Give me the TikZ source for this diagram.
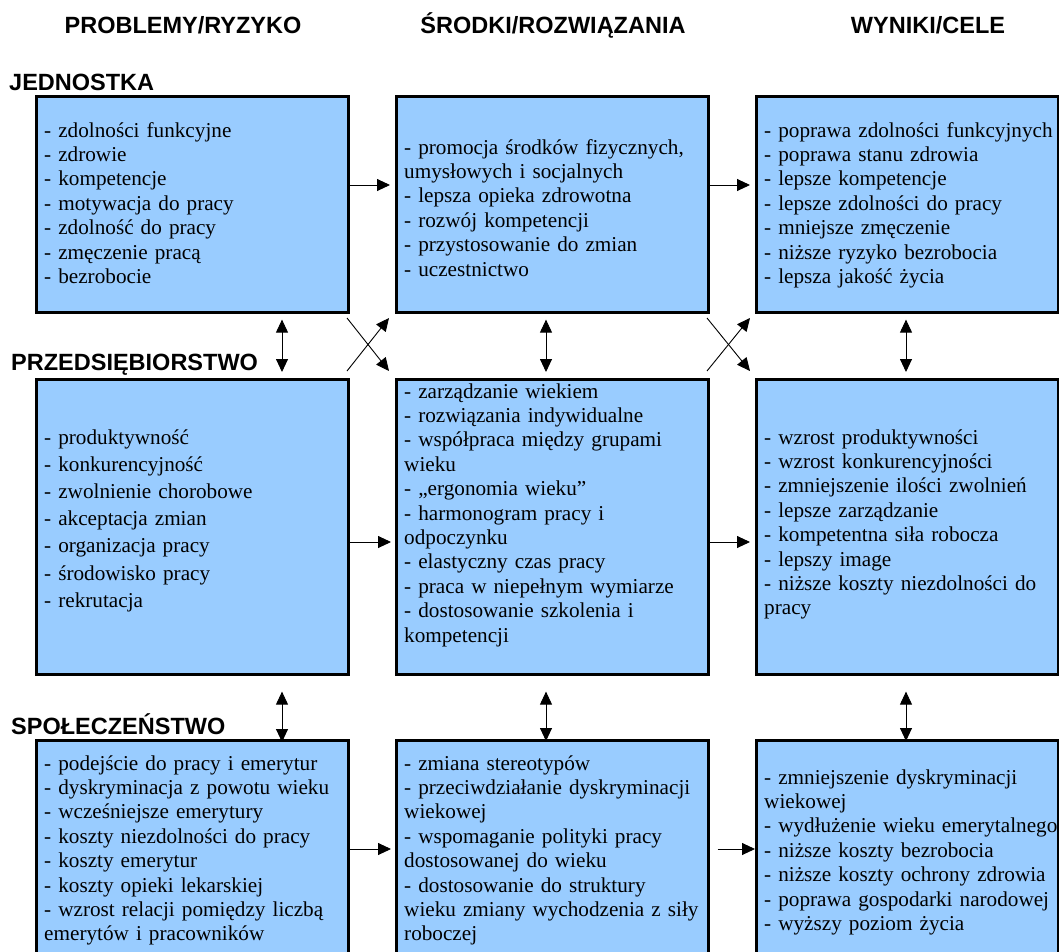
\documentclass[tikz,border=0pt]{standalone}
\usepackage{fontspec}
\setmainfont{Liberation Serif}
\setsansfont{Liberation Sans}
\usetikzlibrary{arrows.meta}
\definecolor{boxblue}{RGB}{153,204,255}
\begin{document}
\begin{tikzpicture}[x=1bp,y=-1bp,
 box/.style={draw=black, line width=2.6bp, fill=boxblue, inner sep=0pt, anchor=north west},
 txt/.style={inner sep=0pt, anchor=base west, align=left, text width=305bp, font=\fontsize{21.2bp}{24.4bp}\selectfont},
 hdr/.style={inner sep=0pt, anchor=base, font=\sffamily\bfseries\fontsize{23.5bp}{28bp}\selectfont},
 side/.style={hdr, anchor=base west},
 arr/.style={line width=0.9bp, -{Triangle[length=13bp,width=12bp]}},
 darr/.style={line width=0.9bp, {Triangle[length=13bp,width=12bp]}-{Triangle[length=13bp,width=12bp]}},
]
\useasboundingbox (0,0) rectangle (1059,952);

% headers
\node[hdr] (h1) at (183,33.5) {PROBLEMY/RYZYKO};
\node[hdr] (h2) at (553,33.5) {ŚRODKI/ROZWIĄZANIA};
\node[hdr] (h3) at (928,33.5) {WYNIKI/CELE};
\node[side] (s1) at (9,90) {JEDNOSTKA};
\node[side] (s2) at (11,370) {PRZEDSIĘBIORSTWO};
\node[side] (s3) at (11,734) {SPOŁECZEŃSTWO};

% boxes
\node[box, minimum width=312bp, minimum height=216bp] (A) at (35,95) {};
\node[box, minimum width=312bp, minimum height=216bp] (B) at (395,95) {};
\node[box, minimum width=302bp, minimum height=216bp] (C) at (755,95) {};
\node[box, minimum width=312bp, minimum height=295bp] (D) at (35,378) {};
\node[box, minimum width=312bp, minimum height=295bp] (E) at (395,378) {};
\node[box, minimum width=302bp, minimum height=295bp] (F) at (755,378) {};
\node[box, minimum width=312bp, minimum height=240bp] (G) at (35,739) {};
\node[box, minimum width=312bp, minimum height=240bp] (H) at (395,739) {};
\node[box, minimum width=302bp, minimum height=240bp] (I) at (755,739) {};

% texts
\node[txt] (tA) at (44,137) {- zdolności funkcyjne\\- zdrowie\\- kompetencje\\- motywacja do pracy\\- zdolność do pracy\\- zmęczenie pracą\\- bezrobocie};
\node[txt] (tB) at (404,154) {- promocja środków fizycznych,\\umysłowych i socjalnych\\- lepsza opieka zdrowotna\\- rozwój kompetencji\\- przystosowanie do zmian\\- uczestnictwo};
\node[txt] (tC) at (764,137) {- poprawa zdolności funkcyjnych\\- poprawa stanu zdrowia\\- lepsze kompetencje\\- lepsze zdolności do pracy\\- mniejsze zmęczenie\\- niższe ryzyko bezrobocia\\- lepsza jakość życia};
\node[txt, font=\fontsize{21.2bp}{27.2bp}\selectfont] (tD) at (44,444) {- produktywność\\- konkurencyjność\\- zwolnienie chorobowe\\- akceptacja zmian\\- organizacja pracy\\- środowisko pracy\\- rekrutacja};
\node[txt] (tE) at (404,398) {- zarządzanie wiekiem\\- rozwiązania indywidualne\\- współpraca między grupami\\wieku\\- „ergonomia wieku”\\- harmonogram pracy i\\odpoczynku\\- elastyczny czas pracy\\- praca w niepełnym wymiarze\\- dostosowanie szkolenia i\\kompetencji};
\node[txt] (tF) at (764,444) {- wzrost produktywności\\- wzrost konkurencyjności\\- zmniejszenie ilości zwolnień\\- lepsze zarządzanie\\- kompetentna siła robocza\\- lepszy image\\- niższe koszty niezdolności do\\pracy};
\node[txt] (tG) at (44,770) {- podejście do pracy i emerytur\\- dyskryminacja z powotu wieku\\- wcześniejsze emerytury\\- koszty niezdolności do pracy\\- koszty emerytur\\- koszty opieki lekarskiej\\\makebox[296bp][s]{- wzrost relacji pomiędzy liczbą}\\emerytów i pracowników};
\node[txt] (tH) at (404,770) {- zmiana stereotypów\\- przeciwdziałanie dyskryminacji\\wiekowej\\- wspomaganie polityki pracy\\dostosowanej do wieku\\- dostosowanie do struktury\\wieku zmiany wychodzenia z siły\\roboczej};
\node[txt] (tI) at (764,784) {- zmniejszenie dyskryminacji\\wiekowej\\- wydłużenie wieku emerytalnego\\- niższe koszty bezrobocia\\- niższe koszty ochrony zdrowia\\- poprawa gospodarki narodowej\\- wyższy poziom życia};

% helper coordinates
\coordinate (yT) at (0,185);
\coordinate (yM) at (0,542);
\coordinate (yB) at (0,849);
\coordinate (xL) at (282,0);
\coordinate (xM) at (546,0);
\coordinate (xR) at (906,0);

% horizontal arrows
\draw[arr, shorten >=5bp] (A.east |- yT) -- (B.west |- yT);
\draw[arr, shorten >=5bp] (B.east |- yT) -- (C.west |- yT);
\draw[arr, shorten >=4bp] (D.east |- yM) -- (E.west |- yM);
\draw[arr, shorten >=5bp] (E.east |- yM) -- (F.west |- yM);
\draw[arr, shorten >=4bp] (G.east |- yB) -- (H.west |- yB);
\draw[arr, shorten <=8bp] (H.east |- yB) -- (I.west |- yB);

% vertical double arrows
\draw[darr, shorten <=6bp, shorten >=6bp] (A.south -| xL) -- (D.north -| xL);
\draw[darr, shorten <=6bp, shorten >=6bp] (B.south -| xM) -- (E.north -| xM);
\draw[darr, shorten <=6bp, shorten >=6bp] (C.south -| xR) -- (F.north -| xR);
\draw[darr, shorten <=16bp, shorten >=-3bp] (D.south -| xL) -- (G.north -| xL);
\draw[darr, shorten <=16bp, shorten >=-2bp] (E.south -| xM) -- (H.north -| xM);
\draw[darr, shorten <=16bp, shorten >=-2bp] (F.south -| xR) -- (I.north -| xR);

% crossing arrows
\coordinate (p1) at (347,318); \coordinate (p2) at (389,371);
\coordinate (p3) at (347,371); \coordinate (p4) at (389,318);
\coordinate (q1) at (707,318); \coordinate (q2) at (750,371);
\coordinate (q3) at (707,371); \coordinate (q4) at (750,318);
\draw[arr] (p1) -- (p2);
\draw[arr] (p3) -- (p4);
\draw[arr] (q1) -- (q2);
\draw[arr] (q3) -- (q4);
\end{tikzpicture}
\end{document}
